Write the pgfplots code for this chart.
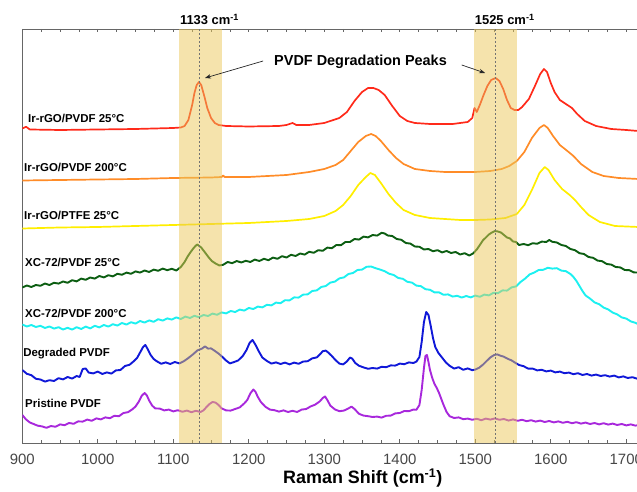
\documentclass[border=0pt]{standalone}
\usepackage{fontspec}
\setmainfont{Liberation Sans}
\usepackage{pgfplots}
\pgfplotsset{compat=1.18}
\usetikzlibrary{arrows.meta}
\definecolor{cRed}{HTML}{FF2A1A}
\definecolor{cOrange}{HTML}{FF8C28}
\definecolor{cYellow}{HTML}{FFEE00}
\definecolor{cGreen}{HTML}{0C5E12}
\definecolor{cCyan}{HTML}{1CF0F0}
\definecolor{cBlue}{HTML}{1018D8}
\definecolor{cPurple}{HTML}{A828DC}
\definecolor{band}{HTML}{EBC85A}
\newcommand{\lab}{\bfseries\fontsize{11.5}{12}\selectfont}

\begin{document}
\begin{tikzpicture}
\begin{axis}[
  scale only axis, width=614.7bp, height=414bp,
  xmin=900, xmax=1714.2, ymin=-443, ymax=-29,
  axis x line*=box, axis y line*=left,
  ytick=\empty,
  xtick={900,1000,...,1700},
  minor x tick num=3,
  major tick length=3.5bp, minor tick length=3bp,
  tick style={black!60, line width=0.6bp},
  axis line style={black!60, line width=0.8bp},
  xticklabel style={font=\fontsize{15}{15}\selectfont, text=black!72, anchor=base, yshift=-22bp},
  /pgf/number format/assume math mode=true,
  /pgf/number format/1000 sep={},
  clip mode=individual,
  every axis plot/.append style={line width=1.7bp, line join=round, mark=none},
]
\coordinate (sw) at (rel axis cs:0,0);
\coordinate (ne) at (rel axis cs:1,1);

% Ir-rGO/PVDF 25C
\addplot[cRed] coordinates {
(900,-128.5) (905,-126.8) (910,-129.5) (950,-130) (1000,-129.5) (1050,-129) (1100,-128) (1110,-127.5)
(1115,-126) (1120,-120) (1125,-105) (1128,-93) (1131,-85) (1134,-82) (1137,-85) (1141,-96) (1145,-108)
(1150,-118) (1155,-123) (1160,-125) (1170,-126) (1200,-126.5) (1240,-126) (1250,-125) (1258,-123)
(1263,-125) (1280,-125) (1300,-123) (1320,-118) (1330,-112) (1340,-101) (1350,-92) (1358,-88) (1365,-88)
(1372,-90) (1380,-95) (1390,-106) (1400,-116) (1410,-121) (1420,-123) (1440,-124) (1470,-124) (1480,-123)
(1490,-122) (1496,-118) (1499,-108) (1502,-112) (1506,-105) (1511,-95) (1516,-86) (1521,-80) (1527,-78)
(1532,-81) (1537,-89) (1542,-100) (1547,-108) (1552,-110) (1557,-110) (1562,-107) (1571,-99) (1579,-86)
(1586,-74) (1591,-69) (1595,-72) (1600,-83) (1605,-92) (1612,-100) (1620,-104) (1628,-108) (1635,-114)
(1645,-121) (1660,-126) (1680,-129) (1700,-130) (1716,-131)};

% Ir-rGO/PVDF 200C
\addplot[cOrange] coordinates {
(900,-180.5) (950,-180) (1000,-179.5) (1050,-179) (1100,-178) (1150,-177.5) (1164,-177) (1166,-175.5)
(1168,-177) (1200,-177) (1250,-175) (1280,-172) (1300,-169) (1315,-165) (1325,-160) (1335,-151)
(1345,-142) (1355,-136) (1362,-134) (1368,-136) (1375,-141) (1385,-150) (1395,-158) (1405,-164)
(1420,-169) (1440,-171) (1460,-172) (1500,-172) (1520,-171) (1535,-169) (1545,-166) (1555,-161)
(1565,-152) (1575,-138) (1585,-128) (1591,-125) (1596,-128) (1603,-136) (1612,-145) (1622,-151)
(1630,-156) (1640,-164) (1655,-172) (1670,-176) (1690,-178) (1716,-179)};

% Ir-rGO/PTFE 25C
\addplot[cYellow] coordinates {
(900,-228.5) (950,-227.5) (1000,-227) (1050,-226) (1100,-225) (1150,-224) (1200,-223) (1250,-221)
(1280,-219) (1300,-216) (1315,-211) (1325,-205) (1335,-196) (1345,-185) (1355,-177) (1361,-173)
(1367,-175) (1375,-183) (1385,-194) (1395,-203) (1405,-210) (1420,-215) (1440,-218) (1460,-219)
(1480,-220) (1500,-220) (1520,-219.5) (1540,-218) (1555,-214) (1565,-205) (1575,-190) (1585,-173)
(1592,-167) (1597,-170) (1605,-180) (1615,-189) (1625,-195) (1632,-200) (1640,-207) (1650,-215)
(1665,-222) (1685,-226) (1716,-227)};

% XC-72/PVDF 25C
\addplot[cGreen, line width=1.9bp] coordinates {
(900,-287.5) (906,-285.5) (912,-287) (918,-285) (924,-285.8) (930,-283.5) (936,-285) (942,-282.8)
(948,-283.6) (954,-281.5) (960,-282.8) (966,-280.2) (972,-281.4) (978,-278.6) (984,-279.8) (990,-277.5)
(996,-278.6) (1002,-276) (1008,-277.4) (1014,-275.2) (1020,-276.4) (1026,-273.8) (1032,-274.8)
(1038,-272.6) (1044,-273.8) (1050,-271.4) (1056,-272.6) (1062,-270.5) (1068,-272) (1074,-269.6)
(1080,-270.8) (1086,-268.6) (1092,-270.2) (1098,-268.8) (1104,-270.5) (1110,-267) (1115,-262)
(1119,-256.5) (1123,-252) (1127,-248) (1130,-245.5) (1132,-244.5) (1134,-245.8) (1137,-247.5)
(1140,-250.5) (1143,-253.5) (1147,-257.5) (1151,-261) (1156,-263.5) (1161,-265.5) (1166,-264.8)
(1172,-262) (1178,-263.2) (1184,-261) (1190,-262.5) (1196,-260.8) (1202,-262) (1208,-259.6)
(1214,-261) (1220,-258.8) (1226,-260.2) (1232,-257.6) (1238,-258.8) (1244,-256.2) (1250,-257.5)
(1256,-254.8) (1262,-256) (1268,-253.5) (1274,-254.6) (1280,-251.8) (1286,-252.8) (1292,-250.2)
(1298,-250.8) (1304,-247.6) (1310,-248.2) (1316,-245) (1322,-245.2) (1328,-242) (1334,-242)
(1340,-239) (1346,-239.6) (1352,-236.6) (1358,-237.4) (1364,-235) (1370,-235.6) (1376,-232.8)
(1380,-233.5) (1384,-235.5) (1390,-236) (1396,-239) (1402,-239.8) (1408,-243) (1414,-243.6)
(1420,-246.5) (1426,-246.8) (1432,-249.5) (1438,-249) (1444,-251.2) (1450,-250.2) (1456,-252.4)
(1462,-251) (1468,-253) (1474,-252) (1480,-254.5) (1486,-253.2) (1492,-255.5) (1497,-253.5)
(1502,-249.5) (1506,-245) (1510,-240.5) (1514,-237.5) (1518,-234.5) (1522,-232.5) (1526,-231)
(1530,-231.5) (1534,-232.5) (1538,-235) (1542,-237.5) (1546,-238.5) (1550,-241.5) (1554,-242)
(1558,-245) (1564,-244) (1570,-245.2) (1576,-243.2) (1582,-243.8) (1588,-241.6) (1594,-242)
(1598,-240) (1602,-241.8) (1608,-242.5) (1614,-245) (1620,-246) (1626,-249) (1632,-250.2)
(1638,-253.2) (1644,-254) (1650,-257) (1656,-257.8) (1662,-260.6) (1668,-261.2) (1674,-264)
(1680,-264.6) (1686,-267) (1692,-267.4) (1698,-270) (1704,-270.2) (1710,-272.4) (1716,-272.6)};

% XC-72/PVDF 200C
\addplot[cCyan, line width=1.9bp] coordinates {
(900,-324.5) (906,-326.5) (912,-325) (918,-327) (924,-325.8) (930,-328) (936,-326.5) (942,-328.6)
(948,-327.2) (954,-329.5) (960,-327.8) (966,-329.6) (972,-327.2) (978,-329) (984,-326.6) (990,-328.4)
(996,-325.8) (1002,-327.4) (1008,-325) (1014,-326.6) (1020,-324.2) (1026,-325.6) (1032,-323)
(1038,-324.6) (1044,-322.2) (1050,-323.6) (1056,-321) (1062,-322.6) (1068,-320.4) (1074,-321.8)
(1080,-319.2) (1086,-320.6) (1092,-318.4) (1098,-319.6) (1104,-317.4) (1110,-319) (1116,-316.6)
(1122,-318) (1128,-315.8) (1134,-317.2) (1140,-315) (1146,-316) (1152,-313.6) (1158,-314.8)
(1164,-312.4) (1170,-313.4) (1176,-311) (1182,-312) (1188,-309.6) (1194,-310.6) (1200,-308)
(1206,-309) (1212,-306.6) (1218,-307.4) (1224,-304.8) (1230,-305.4) (1236,-302.6) (1242,-303.2)
(1248,-300.2) (1254,-300.4) (1260,-297.4) (1266,-297.6) (1272,-294.6) (1278,-294.4) (1284,-291)
(1290,-290.4) (1296,-287) (1302,-286) (1308,-282.6) (1314,-281.6) (1320,-278.4) (1326,-277.4)
(1332,-274) (1338,-273) (1344,-270) (1350,-269.6) (1356,-266.8) (1362,-266.5) (1368,-268.2)
(1374,-269.6) (1380,-271.2) (1386,-273.8) (1392,-275) (1398,-278) (1404,-278.8) (1410,-281.8)
(1416,-282.6) (1422,-285.6) (1428,-286.2) (1434,-289.2) (1440,-289.8) (1446,-292.4) (1452,-292.4)
(1458,-294.8) (1464,-294.4) (1470,-296.6) (1476,-295.8) (1482,-297.6) (1488,-296) (1494,-297.4)
(1500,-295.6) (1506,-296.8) (1512,-294.6) (1518,-295.4) (1524,-292.8) (1530,-293.2) (1536,-290.4)
(1542,-290.6) (1548,-287.4) (1554,-286.4) (1560,-282) (1566,-278.6) (1572,-274.4) (1578,-272.6)
(1584,-270) (1590,-269.8) (1596,-267.8) (1602,-268.6) (1608,-268.2) (1614,-270.6) (1620,-271.2)
(1626,-274) (1630,-277) (1634,-281) (1638,-286) (1642,-291) (1646,-295.4) (1652,-298.6)
(1658,-302.4) (1664,-304.2) (1670,-307.6) (1676,-309.4) (1682,-312.6) (1688,-314.4) (1694,-317.4)
(1700,-318.6) (1706,-321.4) (1712,-322.8) (1718,-325)};

% Degraded PVDF
\addplot[cBlue, line width=1.9bp] coordinates {
(900,-370) (906,-373.8) (912,-375.2) (918,-378.8) (924,-379.5) (930,-381.6) (936,-380.2) (942,-381)
(948,-378.2) (954,-379.4) (960,-377) (966,-378.6) (972,-376) (976,-377) (980,-369) (984,-368.5)
(988,-372.6) (994,-373.4) (1000,-371.6) (1006,-374) (1012,-372.4) (1018,-373.6) (1024,-370.4)
(1030,-370) (1036,-366) (1042,-364.8) (1048,-361) (1052,-358) (1056,-352.5) (1060,-347) (1063,-345)
(1066,-349) (1070,-355) (1074,-359) (1078,-361.2) (1084,-363.8) (1090,-362.4) (1096,-364) (1102,-362)
(1108,-363.4) (1114,-361.2) (1120,-358) (1126,-354.4) (1132,-350.4) (1138,-348.6) (1142,-346.4)
(1146,-348.6) (1150,-348.4) (1154,-350.4) (1160,-353.6) (1166,-357.6) (1170,-360.6) (1175,-363.4)
(1180,-362.2) (1186,-360.4) (1192,-356) (1197,-350) (1201,-343) (1205,-340) (1209,-345) (1213,-351)
(1218,-357.6) (1224,-361) (1230,-363.6) (1236,-362.4) (1242,-364) (1248,-362.6) (1254,-364.4)
(1260,-362.6) (1266,-363.8) (1272,-361.6) (1278,-361.2) (1284,-358.4) (1290,-357.4) (1294,-354.6)
(1298,-351.2) (1302,-350.6) (1306,-353) (1310,-356) (1315,-360.2) (1320,-363.6) (1325,-364.4)
(1330,-361.4) (1334,-357.6) (1337,-358.6) (1341,-363) (1346,-365.8) (1352,-367.4) (1358,-368.8)
(1364,-368) (1370,-368.6) (1376,-366.8) (1382,-367.2) (1388,-365.4) (1394,-365.6) (1400,-363.6)
(1406,-364.2) (1412,-362.4) (1418,-363) (1422,-361.6) (1426,-357) (1429,-342) (1432,-322)
(1435,-312) (1438,-315) (1441,-326) (1444,-338) (1447,-347) (1451,-352.8) (1456,-357.6)
(1461,-362.4) (1466,-365.8) (1472,-368.6) (1478,-367.2) (1484,-369.8) (1490,-368.4) (1496,-370.2)
(1500,-369.6) (1505,-367.8) (1510,-364.8) (1515,-361) (1520,-357.4) (1525,-355) (1529,-354.4)
(1533,-355.6) (1538,-356.8) (1543,-358.8) (1548,-360.4) (1553,-362.8) (1558,-365) (1564,-366.2)
(1570,-368.6) (1576,-368.6) (1582,-370.4) (1588,-369.8) (1594,-371.4) (1600,-370.6) (1606,-372.4)
(1612,-371.6) (1618,-373.2) (1624,-372.6) (1630,-374.2) (1636,-373.2) (1642,-375) (1648,-374)
(1654,-375.6) (1660,-374.6) (1666,-376) (1672,-375.2) (1678,-376.6) (1684,-375.6) (1690,-377.4)
(1696,-376.4) (1702,-378) (1708,-377.2) (1714,-378.6) (1718,-378)};

% Pristine PVDF
\addplot[cPurple, line width=1.9bp] coordinates {
(900,-415) (905,-419.5) (910,-422.5) (915,-424) (920,-425.6) (926,-426.4) (932,-427.8) (938,-426)
(944,-426.8) (950,-424.4) (956,-425.2) (962,-423) (968,-423.8) (974,-421.4) (980,-421.6) (986,-419.6)
(992,-420.8) (998,-418.4) (1004,-419.4) (1010,-417.4) (1016,-418.2) (1022,-415.8) (1028,-416.2)
(1034,-413) (1040,-412.2) (1046,-409.2) (1050,-406.5) (1054,-402) (1058,-396) (1062,-393)
(1065,-395.5) (1068,-400.5) (1072,-405.6) (1076,-408.4) (1082,-408.6) (1088,-410.4) (1094,-409.6)
(1100,-411.4) (1106,-410.2) (1112,-411.8) (1118,-410.6) (1124,-412.2) (1130,-410.8) (1136,-412)
(1140,-410.4) (1144,-407) (1148,-404) (1152,-402) (1156,-402.6) (1160,-405) (1164,-408.4)
(1170,-410.4) (1176,-410.6) (1182,-409) (1188,-407.4) (1194,-403.4) (1198,-400) (1202,-393.5)
(1206,-389.5) (1209,-392) (1212,-397) (1216,-402) (1222,-406.8) (1228,-409.6) (1234,-410.2)
(1240,-411.6) (1246,-410.4) (1252,-412) (1258,-410.8) (1264,-412) (1270,-409.6) (1276,-409)
(1282,-406.4) (1288,-404.6) (1294,-401.4) (1298,-398) (1301,-396.5) (1304,-400) (1308,-405.6)
(1314,-409.4) (1320,-411.2) (1326,-410.6) (1332,-408.4) (1336,-406.6) (1340,-409) (1346,-413.8)
(1352,-415.6) (1358,-416.2) (1364,-417) (1370,-416.6) (1376,-417.6) (1382,-415.8) (1388,-415.6)
(1394,-413.4) (1400,-413) (1406,-411) (1412,-411.2) (1418,-409.6) (1422,-409.8) (1426,-405)
(1429,-390) (1432,-368) (1434,-356) (1436,-355) (1438,-362) (1440,-370) (1443,-378) (1446,-384)
(1449,-388) (1452,-393) (1455,-399) (1458,-405) (1462,-412) (1466,-416.2) (1472,-418) (1478,-417.4)
(1484,-419.2) (1490,-418.6) (1496,-419.8) (1502,-418.8) (1508,-420.2) (1514,-418.6) (1520,-419.6)
(1526,-418.4) (1532,-419.8) (1538,-419) (1544,-420.6) (1550,-419.4) (1556,-420.8) (1562,-419.8)
(1568,-421.2) (1574,-420.2) (1580,-421.6) (1586,-420.6) (1592,-422) (1598,-421) (1604,-422.4)
(1610,-421.4) (1616,-422.8) (1622,-421.8) (1628,-423.2) (1634,-422.2) (1640,-423.6) (1646,-422.6)
(1652,-424) (1658,-423) (1664,-424.4) (1670,-423.2) (1676,-424.6) (1682,-423.6) (1688,-425)
(1694,-424) (1700,-425.4) (1706,-424.4) (1712,-425.6) (1718,-425)};

% shaded bands and reference lines
\fill[band, opacity=0.5] (axis cs:1107.5,-443) rectangle (axis cs:1164.5,-29);
\fill[band, opacity=0.5] (axis cs:1498,-443) rectangle (axis cs:1555,-29);
\draw[black!55, line width=0.5bp, dash pattern=on 2bp off 2bp] (axis cs:1135,-443) -- (axis cs:1135,-29);
\draw[black!55, line width=0.5bp, dash pattern=on 2bp off 2bp] (axis cs:1527,-443) -- (axis cs:1527,-29);

\node[font=\bfseries\fontsize{13}{13}\selectfont, anchor=base] at (axis cs:1148,-25) {1133 cm\textsuperscript{-1}};
\node[font=\bfseries\fontsize{13}{13}\selectfont, anchor=base] at (axis cs:1539,-25) {1525 cm\textsuperscript{-1}};

\node[font=\bfseries\fontsize{14.5}{15}\selectfont] at (axis cs:1348,-62) {PVDF Degradation Peaks};
\draw[-{Stealth[length=6bp,width=4.5bp]}, line width=0.7bp, black!85] (axis cs:1219,-61) -- (axis cs:1142,-78);
\draw[-{Stealth[length=6bp,width=4.5bp]}, line width=0.7bp, black!85] (axis cs:1482,-65) -- (axis cs:1513,-73);

\node[font=\lab, anchor=base west, inner sep=0pt] at (axis cs:907.5,-123) {Ir-rGO/PVDF 25°C};
\node[font=\lab, anchor=base west, inner sep=0pt] at (axis cs:902.3,-172) {Ir-rGO/PVDF 200°C};
\node[font=\lab, anchor=base west, inner sep=0pt] at (axis cs:902.3,-220) {Ir-rGO/PTFE 25°C};
\node[font=\lab, anchor=base west, inner sep=0pt] at (axis cs:903.6,-267) {XC-72/PVDF 25°C};
\node[font=\lab, anchor=base west, inner sep=0pt] at (axis cs:903.6,-318) {XC-72/PVDF 200°C};
\node[font=\lab, anchor=base west, inner sep=0pt] at (axis cs:901,-357) {Degraded PVDF};
\node[font=\lab, anchor=base west, inner sep=0pt] at (axis cs:903.6,-408) {Pristine PVDF};

\node[font=\bfseries\fontsize{18}{18}\selectfont, anchor=base] at (axis cs:1351,-484) {Raman Shift (cm\textsuperscript{-1})};
\end{axis}
\pgfresetboundingbox
\path ([xshift=-22.3bp,yshift=-49bp]sw) rectangle ([yshift=29bp]ne);
\end{tikzpicture}
\end{document}
